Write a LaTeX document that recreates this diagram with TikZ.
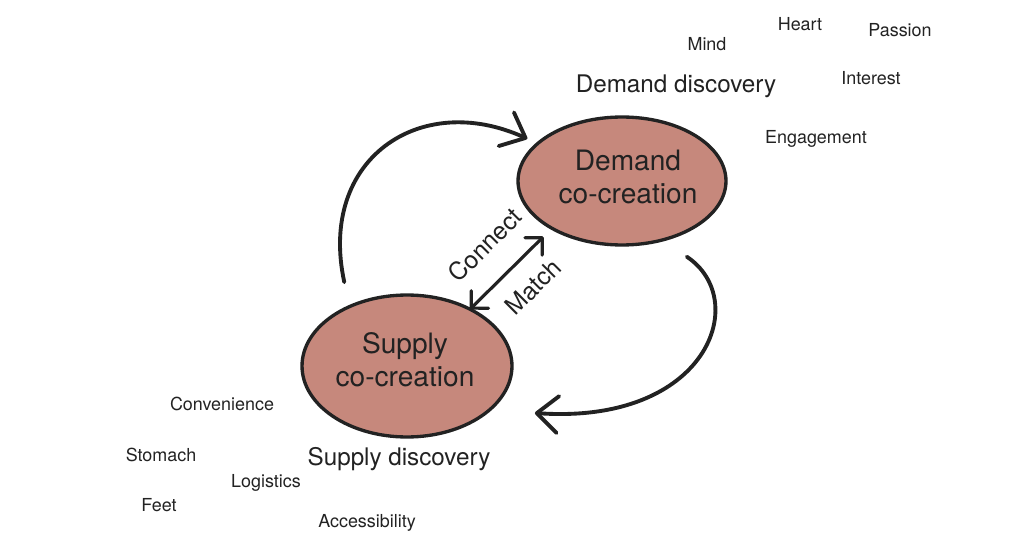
\documentclass[tikz,border=0pt]{standalone}
\usepackage{fontspec}
\setmainfont{TeX Gyre Heros}
\usetikzlibrary{shapes.geometric, arrows.meta}
\definecolor{clay}{RGB}{198,136,124}
\definecolor{ink}{RGB}{34,34,34}
\tikzset{
    %Define style for the co-creation blobs
    ell/.style={
           ellipse,
           draw=ink, line width=1.9pt,
           fill=clay,
           inner sep=0pt, outer sep=0pt},
    %text inside the blobs
    big/.style={
           text=ink,
           align=center,
           font=\fontsize{16}{18.7}\selectfont},
    %discovery headings
    hed/.style={text=ink, anchor=base, font=\fontsize{13.8}{16}\selectfont},
    %the small words around
    wrd/.style={text=ink, anchor=base, font=\fontsize{10.2}{12}\selectfont},
    %labels along the middle arrow
    mid/.style={text=ink, rotate=45, font=\fontsize{14}{16}\selectfont},
    % Define arrow style
    pil/.style={
           -{Straight Barb[length=12pt,width=21pt,round]},
           line width=2.2pt, draw=ink, line cap=round},
    dbl/.style={
           {Straight Barb[length=7pt,width=14pt,round]}-{Straight Barb[length=7pt,width=14pt,round]},
           line width=1.8pt, draw=ink, line cap=round}
}

\begin{document}
\begin{tikzpicture}[x=0.02cm, y=-0.02cm]

\useasboundingbox (0,0) rectangle (1024,557);

\node[ell, minimum width=4.16cm, minimum height=2.56cm] (dem) at (622,181) {};
\node[ell, minimum width=4.2cm, minimum height=2.84cm] (sup) at (407,366) {};
\node[big] (demt) at (628,177) {Demand\\co-creation};
\node[big] (supt) at (405,360) {Supply\\co-creation};

\node[hed] (demd) at (676,93) {Demand discovery};
\node[hed] (supd) at (399,465) {Supply discovery};

\node[wrd] (heart) at (800,31) {Heart};
\node[wrd] (passion) at (900,37) {Passion};
\node[wrd] (mind) at (707,51) {Mind};
\node[wrd] (interest) at (871,85) {Interest};
\node[wrd] (engage) at (816,144) {Engagement};

\node[wrd] (conv) at (222,410) {Convenience};
\node[wrd] (stomach) at (161,461) {Stomach};
\node[wrd] (logist) at (266,487) {Logistics};
\node[wrd] (feet) at (159,511) {Feet};
\node[wrd] (access) at (367,527) {Accessibility};

\node[mid] (con) at (485,245) {Connect};
\node[mid] (mat) at (533,287) {Match};

\draw[pil, shorten <=0.5cm, shorten >=0.23cm]
  (sup.134) .. controls +(-32,-147) and +(-118,-53.5) .. (dem.156);
\draw[pil, shorten <=0.6cm, shorten >=0.91cm]
  (dem.-56) .. controls +(90,60) and +(218,15) .. (sup.-28);
\draw[dbl, shorten >=0.24cm] (sup.42) -- (dem.214);

\end{tikzpicture}
\end{document}
